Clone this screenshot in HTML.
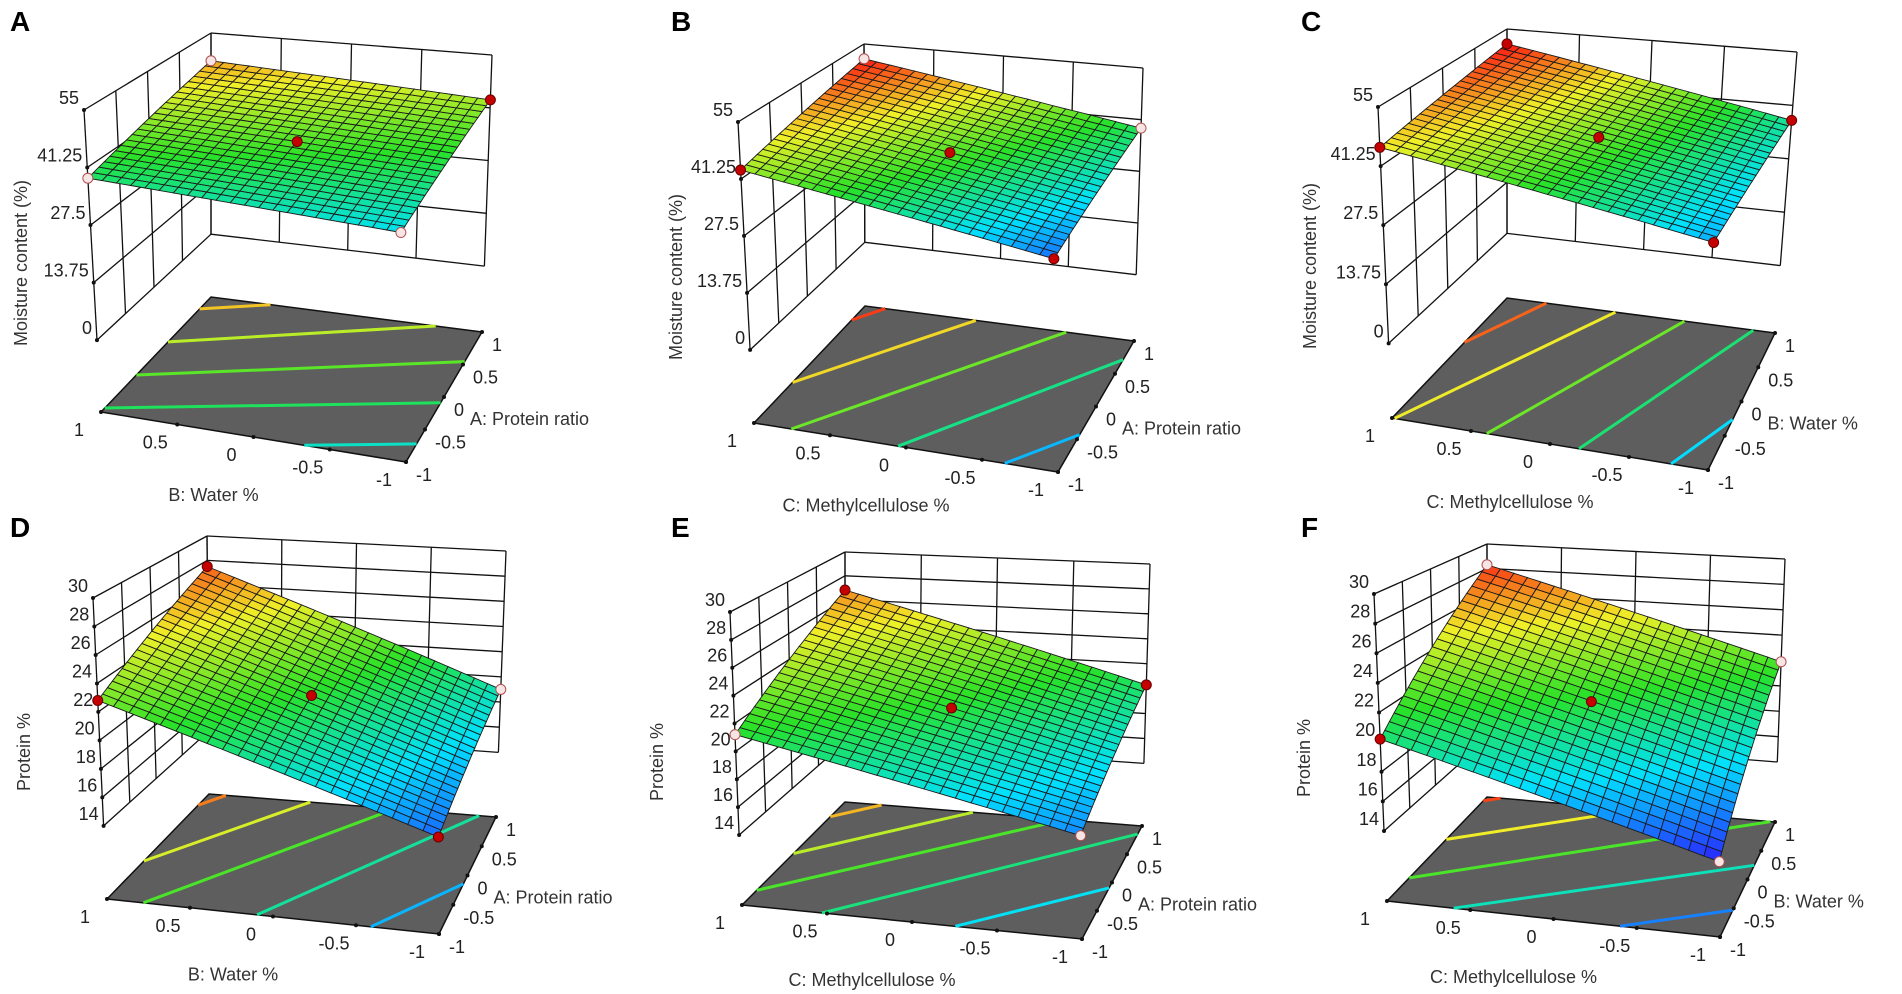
<!DOCTYPE html>
<html><head><meta charset="utf-8"><title>Response surface plots</title>
<style>
html,body{margin:0;padding:0;background:#fff;}
svg{display:block;font-family:"Liberation Sans",sans-serif;}
</style></head>
<body>
<svg id="fig" width="1902" height="994" viewBox="0 0 1902 994" xmlns="http://www.w3.org/2000/svg">
<rect width="1902" height="994" fill="#fff"/>
</svg>
<script>
// ---- data ----
const panelLetters = ['A','B','C','D','E','F'];
// surface corner values: [left (x=1,y=-1), front (x=-1,y=-1), right (x=-1,y=1), back (x=1,y=1)]
const cornerZ_A = [38.7, 35.4, 43.3, 47.4];
const cornerZ_B = [43.4, 32.0, 39.0, 50.9];
const cornerZ_C = [45.6, 33.6, 37.4, 51.0];
const cornerZ_D = [22.8, 15.5, 19.0, 27.5];
const cornerZ_E = [21.2, 16.1, 20.3, 26.8];
const cornerZ_F = [20.2, 14.2, 21.9, 28.3];
const centerZ = [41.2, 41.3, 41.9, 21.2, 21.1, 21.1];
// design point style: 1 = red (above surface), 0 = pale (below)
const cornerRed_A = [0, 0, 1, 0];
const cornerRed_B = [1, 1, 0, 0];
const cornerRed_C = [1, 1, 1, 1];
const cornerRed_D = [1, 1, 0, 1];
const cornerRed_E = [0, 0, 1, 1];
const cornerRed_F = [1, 0, 0, 0];
const contour_A = [36.5, 39, 41.5, 44, 46.5];
const contour_B = [34, 38, 42, 46, 50];
const contour_C = [35, 38.5, 42, 45.5, 49];
const contour_D = [17, 19.5, 22, 24.5, 27];
const contour_E = [18, 20, 22, 24, 26];
const contour_F = [16, 19, 22, 25, 28];
const moistureTicks = [0, 13.75, 27.5, 41.25, 55];
const proteinTicks = [14, 16, 18, 20, 22, 24, 26, 28, 30];
const floorTickLabels = ['1', '0.5', '0', '-0.5', '-1'];
const floorTickValues = [1, 0.5, 0, -0.5, -1];
const zTitles = ['Moisture content (%)','Moisture content (%)','Moisture content (%)','Protein %','Protein %','Protein %'];
const xTitles = ['B: Water %','C: Methylcellulose %','C: Methylcellulose %','B: Water %','C: Methylcellulose %','C: Methylcellulose %'];
const yTitles = ['A: Protein ratio','A: Protein ratio','B: Water %','A: Protein ratio','A: Protein ratio','B: Water %'];

// ---- geometry (layout only) ----
const geom = [
 {L:[101,412],B:[406,462],R:[482,332],K:[211,297],tL:[84,110],tR:[492,55],tK:[211,33],h0:0.238,zt:[22,263],let:[10,31]},
 {L:[754,423],B:[1058,472],R:[1134,341],K:[865,306],tL:[738,122],tR:[1143,68],tK:[864,44],h0:0.243,zt:[677,277],let:[671,31]},
 {L:[1392,418],B:[1708,470],R:[1775,333],K:[1507,298],tL:[1378,107],tR:[1797,52],tK:[1507,29],h0:0.24,zt:[1311,266],let:[1301,31]},
 {L:[107,899],B:[439,934],R:[496,817],K:[209,794],tL:[93,598],tR:[506,551],tK:[207,536],h0:0.243,zt:[25,752],let:[10,537]},
 {L:[742,905],B:[1082,939],R:[1142,826],K:[845,802],tL:[730,612],tR:[1150,564],tK:[845,552],h0:0.239,zt:[658,762],let:[671,537]},
 {L:[1387,901],B:[1720,937],R:[1775,822],K:[1487,797],tL:[1374,594],tR:[1785,559],tK:[1487,544],h0:0.228,zt:[1305,758],let:[1301,537]}
];
const panelCorners = [cornerZ_A,cornerZ_B,cornerZ_C,cornerZ_D,cornerZ_E,cornerZ_F];
const panelRed = [cornerRed_A,cornerRed_B,cornerRed_C,cornerRed_D,cornerRed_E,cornerRed_F];
const panelContours = [contour_A,contour_B,contour_C,contour_D,contour_E,contour_F];

const NS = 'http://www.w3.org/2000/svg';
const svg = document.getElementById('fig');
function mk(tag, attrs, parent){ const e=document.createElementNS(NS,tag); for(const k in attrs) e.setAttribute(k,attrs[k]); (parent||svg).appendChild(e); return e; }

function cmap(v){
  v=Math.max(0,Math.min(1,v));
  const st=[[0,[40,40,255]],[0.25,[0,225,255]],[0.5,[40,225,40]],[0.75,[240,240,40]],[1,[250,40,20]]];
  for(let i=0;i<st.length-1;i++){ const a=st[i],b=st[i+1];
    if(v<=b[0]){ const f=(v-a[0])/(b[0]-a[0]); const c=a[1].map((x,j)=>Math.round(x+(b[1][j]-x)*f)); return 'rgb('+c.join(',')+')'; } }
  return 'rgb(250,40,20)';
}

for(let p=0;p<6;p++){
  const g=geom[p], cz=panelCorners[p];
  const ticks = p<3 ? moistureTicks : proteinTicks;
  const zmin=ticks[0], zmax=ticks[ticks.length-1];
  const cmin = p<3 ? 30 : 14.3, cmax = p<3 ? 50.5 : 28.5;
  const grp = mk('g',{});
  
  
  const tB=[g.B[0]+(g.tL[0]-g.L[0])+(g.tR[0]-g.R[0])-(g.tK[0]-g.K[0]), g.B[1]+(g.tL[1]-g.L[1])+(g.tR[1]-g.R[1])-(g.tK[1]-g.K[1])];
  const bil=(A,Bp,R,K,s,t)=>[A[0]*(1-s)*(1-t)+Bp[0]*s*(1-t)+R[0]*s*t+K[0]*(1-s)*t, A[1]*(1-s)*(1-t)+Bp[1]*s*(1-t)+R[1]*s*t+K[1]*(1-s)*t];
  const proj=(s,t,h)=>{ const f=bil(g.L,g.B,g.R,g.K,s,t), u=bil(g.tL,tB,g.tR,g.tK,s,t); return [f[0]*(1-h)+u[0]*h, f[1]*(1-h)+u[1]*h]; };
  const hz=z=>g.h0+(1-g.h0)*(z-zmin)/(zmax-zmin);
  const zAt=(s,t)=>cz[0]*(1-s)*(1-t)+cz[1]*s*(1-t)+cz[2]*s*t+cz[3]*(1-s)*t;
  const line=(a,b,attrs,par)=>mk('line',Object.assign({x1:a[0].toFixed(1),y1:a[1].toFixed(1),x2:b[0].toFixed(1),y2:b[1].toFixed(1)},attrs),par);

  const walls = mk('g',{stroke:'#111','stroke-width':1.3,fill:'none'},grp);
  
  
  for(let i=0;i<=4;i++){ const f=i/4;
    line(proj(0,f,g.h0),proj(0,f,1),{},walls);
    line(proj(f,1,g.h0),proj(f,1,1),{},walls);
  }
  ticks.forEach(z=>{ const h=hz(z);
    line(proj(0,0,h),proj(0,1,h),{},walls);
    line(proj(0,1,h),proj(1,1,h),{},walls);
  });
  ticks.forEach(z=>{ const pt=proj(0,0,hz(z));
    const d=mk('circle',{cx:pt[0],cy:pt[1],r:2,fill:'#111'},grp);
    
    
    const tx=mk('text',{x:pt[0]-5,y:pt[1]-6,'text-anchor':'end','font-size':18,fill:'#222'},grp);
    tx.textContent=String(z);
    
    
  });
  const zt=mk('text',{x:g.zt[0],y:g.zt[1],'text-anchor':'middle','dominant-baseline':'middle','font-size':18,fill:'#333',transform:'rotate(-90 '+g.zt[0]+' '+g.zt[1]+')'},grp);
  zt.textContent=zTitles[p];
  
  

  const fl=[g.L,g.B,g.R,g.K];
  const floor=mk('polygon',{points:fl.map(q=>q.join(',')).join(' '),fill:'#5e5e5e',stroke:'#111','stroke-width':1.5},grp);
  
  
  panelContours[p].forEach(c=>{
    const pts=[];
    const edge=(za,zb,fn)=>{ if((c-za)*(c-zb)<=0 && za!==zb){ const f=(c-za)/(zb-za); pts.push(fn(f)); } };
    edge(cz[0],cz[1],f=>[f,0]); edge(cz[1],cz[2],f=>[1,f]); edge(cz[3],cz[2],f=>[f,1]); edge(cz[0],cz[3],f=>[0,f]);
    if(pts.length>=2){
      const a=proj(pts[0][0],pts[0][1],0), b=proj(pts[1][0],pts[1][1],0);
      const l=line(a,b,{stroke:cmap((c-cmin)/(cmax-cmin)),'stroke-width':3},grp);
      
      
    }
  });
  floorTickValues.forEach((v,i)=>{
    const s=(1-v)/2;
    const a=proj(s,0,0);
    const d1=mk('circle',{cx:a[0],cy:a[1],r:2,fill:'#111'},grp);
    
    
    const t1=mk('text',{x:a[0]-22,y:a[1]+24,'text-anchor':'middle','font-size':18,fill:'#222'},grp);
    t1.textContent=floorTickLabels[i];
    
    
    const t=(v+1)/2;
    const b=proj(1,t,0);
    const d2=mk('circle',{cx:b[0],cy:b[1],r:2,fill:'#111'},grp);
    
    
    const t2=mk('text',{x:b[0]+10,y:b[1]+19,'text-anchor':'start','font-size':18,fill:'#222'},grp);
    t2.textContent=floorTickLabels[i];
    
    
  });
  const xm=proj(0.5,0,0);
  const xt=mk('text',{x:xm[0]-40,y:xm[1]+64,'text-anchor':'middle','font-size':18,fill:'#333'},grp);
  xt.textContent=xTitles[p];
  
  
  const ym=proj(1,0.5,0);
  const yt=mk('text',{x:ym[0]+26,y:ym[1]+28,'text-anchor':'start','font-size':18,fill:'#333'},grp);
  yt.textContent=yTitles[p];
  
  

  const N=22;
  const surf=mk('g',{stroke:'#1a1a1a','stroke-width':0.9},grp);
  
  
  for(let i=0;i<N;i++) for(let j=0;j<N;j++){
    const s0=i/N,s1=(i+1)/N,t0=j/N,t1=(j+1)/N;
    const q=[[s0,t0],[s1,t0],[s1,t1],[s0,t1]].map(a=>proj(a[0],a[1],hz(zAt(a[0],a[1]))));
    const zc=zAt((s0+s1)/2,(t0+t1)/2);
    const poly=mk('polygon',{points:q.map(a=>a[0].toFixed(1)+','+a[1].toFixed(1)).join(' '),fill:cmap((zc-cmin)/(cmax-cmin))},surf);
    
    
  }
  const cST=[[0,0],[1,0],[1,1],[0,1]];
  cST.forEach((st,k)=>{
    const a=proj(st[0],st[1],hz(cz[k]));
    const red=panelRed[p][k];
    const dp=mk('circle',{cx:a[0],cy:a[1],r:5,fill:red?'#c40000':'#f7e4e4',stroke:red?'#600':'#b05050','stroke-width':1},grp);
    
    
  });
  const cc=proj(0.5,0.5,hz(centerZ[p]));
  const cd=mk('circle',{cx:cc[0],cy:cc[1],r:5,fill:'#c40000',stroke:'#600','stroke-width':1},grp);
  
  

  const lt=mk('text',{x:g.let[0],y:g.let[1],'font-size':28,'font-weight':'bold',fill:'#000'},grp);
  lt.textContent=panelLetters[p];
  
  
}
</script>
</body></html>
